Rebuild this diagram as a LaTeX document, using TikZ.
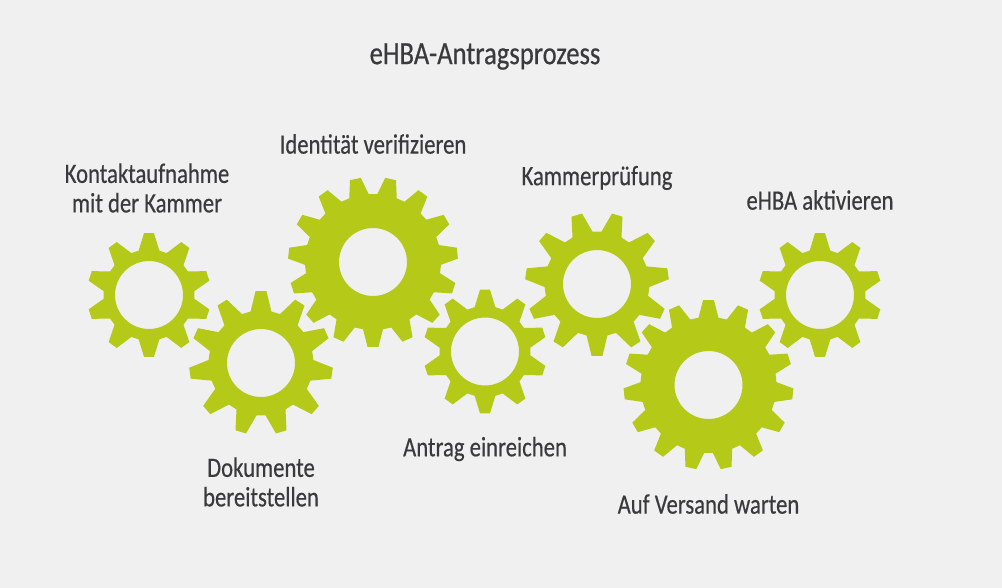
\documentclass[tikz,border=0pt]{standalone}
\usepackage{fontspec}
\setmainfont{Carlito}
\newfontfamily\labfont[FakeStretch=0.81,FakeBold=0.4]{Carlito}
\newfontfamily\ttlfont[FakeStretch=0.82,FakeBold=0.5]{Carlito}
\definecolor{bgc}{HTML}{F0F0F0}
\definecolor{gearc}{HTML}{B5C918}
\definecolor{txt}{HTML}{3A3A3C}
\newcommand{\drawgear}[8]{%
  % cx cy teeth outer root phase tiphalf basehalf
  \gdef\gpath{}
  \pgfmathsetmacro{\dang}{360/#3}
  \pgfmathsetmacro{\tipa}{deg(#7/#4)}
  \pgfmathsetmacro{\basea}{deg(#8/#5)}
  \pgfmathtruncatemacro{\lastt}{#3-1}
  \foreach \gi in {0,...,\lastt}{
    \pgfmathsetmacro{\ga}{#6+\gi*\dang}
    \pgfmathsetmacro{\aA}{\ga-\basea}
    \pgfmathsetmacro{\aB}{\ga-\tipa}
    \pgfmathsetmacro{\aC}{\ga+\tipa}
    \pgfmathsetmacro{\aD}{\ga+\basea}
    \xdef\gpath{\gpath (\aA:#5) -- (\aB:#4) -- (\aC:#4) -- (\aD:#5) -- }
  }
  \begin{scope}[shift={(#1,#2)}]
    \edef\gdo{\noexpand\fill[gearc,even odd rule] \gpath cycle (0,0) circle (34);}
    \gdo
  \end{scope}
}
\begin{document}
\begin{tikzpicture}[x=1pt,y=-1pt,
  lab/.style={text=txt,font=\labfont\fontsize{28}{29.5}\selectfont,align=center,inner sep=0pt},
  ttl/.style={text=txt,font=\ttlfont\fontsize{32.5}{34}\selectfont,inner sep=0pt}]
\fill[bgc] (0,0) rectangle (1002,588);
\useasboundingbox (0,0) rectangle (1002,588);
\drawgear{149}{295}{10}{62}{45.5}{-90}{5}{10.5}
\drawgear{261}{363}{11}{72}{52.5}{-90}{5.5}{10.5}
\drawgear{373}{262}{15}{85}{68}{90}{5.5}{10}
\drawgear{485}{351.5}{10}{62}{45.5}{-90}{5}{10.5}
\drawgear{597}{284}{11}{72}{52.5}{90}{5.5}{10.5}
\drawgear{708.5}{385}{15}{85}{68}{-90}{5.5}{10}
\drawgear{820}{295}{10}{62}{45.5}{-90}{5}{10.5}
\node[ttl] (title) at (485,56.5) {eHBA-Antragsprozess};
\node[lab] (l1) at (147,188) {Kontaktaufnahme\\mit der Kammer};
\node[lab] (l2) at (261,482) {Dokumente\\bereitstellen};
\node[lab] (l3) at (373,144) {Identität verifizieren};
\node[lab] (l4) at (485,449) {Antrag einreichen};
\node[lab] (l5) at (597,178) {Kammerprüfung};
\node[lab] (l6) at (708.5,504) {Auf Versand warten};
\node[lab] (l7) at (820,200) {eHBA aktivieren};
\end{tikzpicture}
\end{document}
